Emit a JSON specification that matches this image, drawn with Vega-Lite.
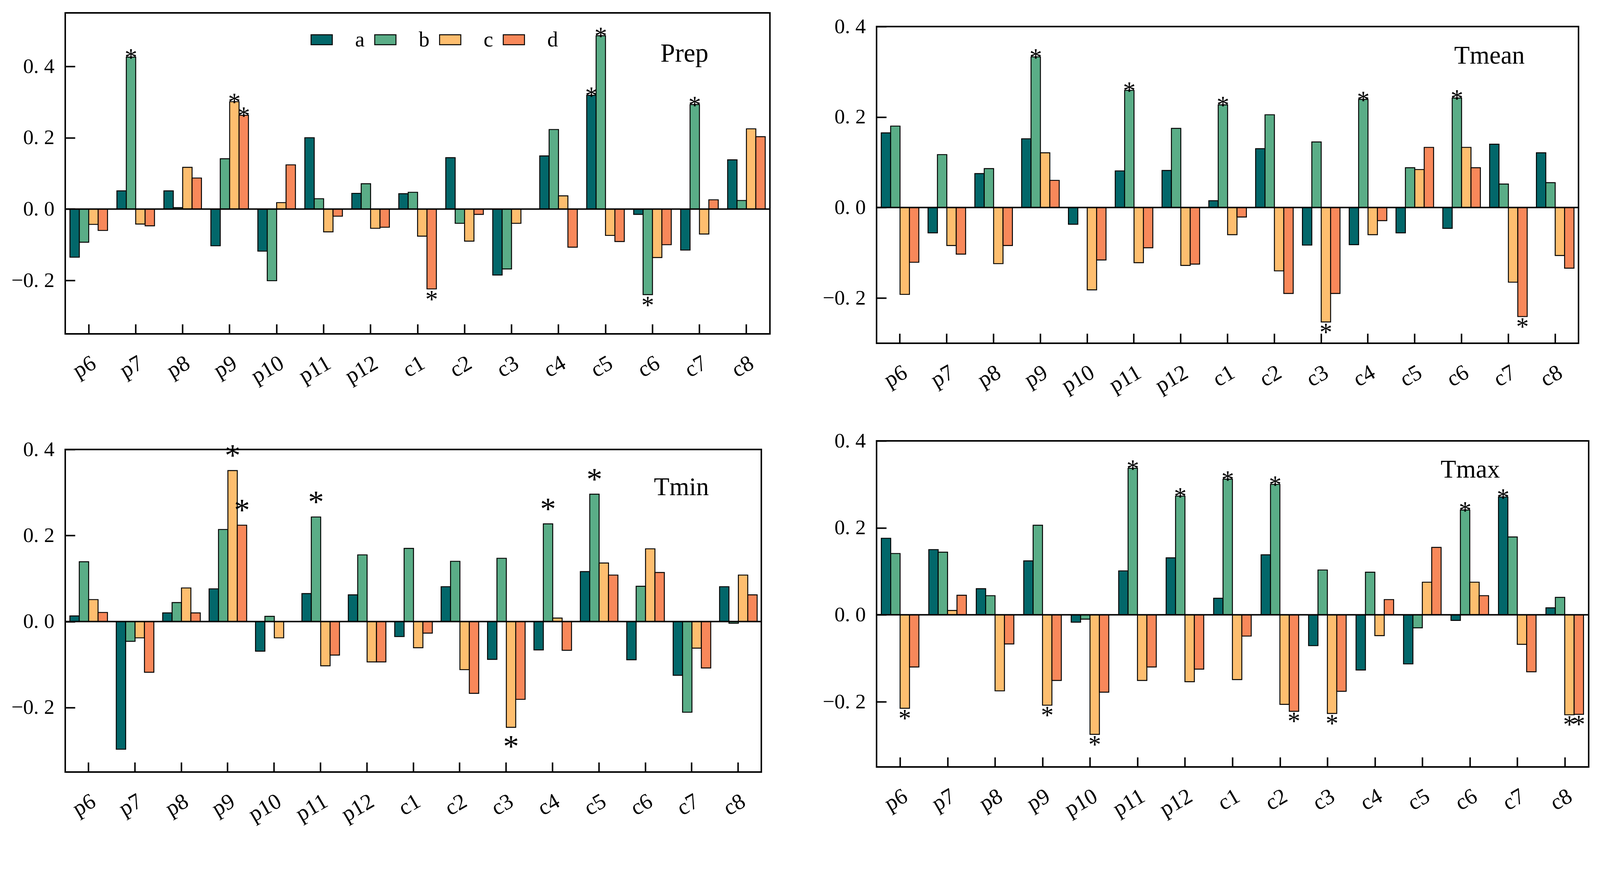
{
"$schema": "https://vega.github.io/schema/vega-lite/v6.json",
"padding": {"left": 26, "top": 31, "right": 5, "bottom": 5},
"background": "white",
"config": {"font": "Liberation Serif", "view": {"stroke": null}},
"datasets": {
"prep": [
{"cat":"p6","s":"a","v":-0.135},{"cat":"p6","s":"b","v":-0.093},{"cat":"p6","s":"c","v":-0.043},{"cat":"p6","s":"d","v":-0.060},
{"cat":"p7","s":"a","v":0.051},{"cat":"p7","s":"b","v":0.426,"sig":1},{"cat":"p7","s":"c","v":-0.042},{"cat":"p7","s":"d","v":-0.047},
{"cat":"p8","s":"a","v":0.051},{"cat":"p8","s":"b","v":0.004},{"cat":"p8","s":"c","v":0.117},{"cat":"p8","s":"d","v":0.087},
{"cat":"p9","s":"a","v":-0.103},{"cat":"p9","s":"b","v":0.141},{"cat":"p9","s":"c","v":0.301,"sig":1},{"cat":"p9","s":"d","v":0.263,"sig":1},
{"cat":"p10","s":"a","v":-0.118},{"cat":"p10","s":"b","v":-0.201},{"cat":"p10","s":"c","v":0.018},{"cat":"p10","s":"d","v":0.124},
{"cat":"p11","s":"a","v":0.200},{"cat":"p11","s":"b","v":0.029},{"cat":"p11","s":"c","v":-0.064},{"cat":"p11","s":"d","v":-0.020},
{"cat":"p12","s":"a","v":0.044},{"cat":"p12","s":"b","v":0.071},{"cat":"p12","s":"c","v":-0.054},{"cat":"p12","s":"d","v":-0.051},
{"cat":"c1","s":"a","v":0.043},{"cat":"c1","s":"b","v":0.047},{"cat":"c1","s":"c","v":-0.076},{"cat":"c1","s":"d","v":-0.224,"sig":1},
{"cat":"c2","s":"a","v":0.144},{"cat":"c2","s":"b","v":-0.040},{"cat":"c2","s":"c","v":-0.090},{"cat":"c2","s":"d","v":-0.015},
{"cat":"c3","s":"a","v":-0.185},{"cat":"c3","s":"b","v":-0.168},{"cat":"c3","s":"c","v":-0.040},
{"cat":"c4","s":"a","v":0.149},{"cat":"c4","s":"b","v":0.223},{"cat":"c4","s":"c","v":0.037},{"cat":"c4","s":"d","v":-0.107},
{"cat":"c5","s":"a","v":0.319,"sig":1},{"cat":"c5","s":"b","v":0.486,"sig":1},{"cat":"c5","s":"c","v":-0.074},{"cat":"c5","s":"d","v":-0.091},
{"cat":"c6","s":"a","v":-0.015},{"cat":"c6","s":"b","v":-0.240,"sig":1},{"cat":"c6","s":"c","v":-0.136},{"cat":"c6","s":"d","v":-0.100},
{"cat":"c7","s":"a","v":-0.115},{"cat":"c7","s":"b","v":0.293,"sig":1},{"cat":"c7","s":"c","v":-0.070},{"cat":"c7","s":"d","v":0.026},
{"cat":"c8","s":"a","v":0.138},{"cat":"c8","s":"b","v":0.024},{"cat":"c8","s":"c","v":0.225},{"cat":"c8","s":"d","v":0.203}
],
"tmean": [
{"cat":"p6","s":"a","v":0.165},{"cat":"p6","s":"b","v":0.180},{"cat":"p6","s":"c","v":-0.192},{"cat":"p6","s":"d","v":-0.121},
{"cat":"p7","s":"a","v":-0.056},{"cat":"p7","s":"b","v":0.117},{"cat":"p7","s":"c","v":-0.084},{"cat":"p7","s":"d","v":-0.103},
{"cat":"p8","s":"a","v":0.075},{"cat":"p8","s":"b","v":0.086},{"cat":"p8","s":"c","v":-0.124},{"cat":"p8","s":"d","v":-0.084},
{"cat":"p9","s":"a","v":0.152},{"cat":"p9","s":"b","v":0.333,"sig":1},{"cat":"p9","s":"c","v":0.121},{"cat":"p9","s":"d","v":0.060},
{"cat":"p10","s":"a","v":-0.037},{"cat":"p10","s":"c","v":-0.182},{"cat":"p10","s":"d","v":-0.116},
{"cat":"p11","s":"a","v":0.081},{"cat":"p11","s":"b","v":0.259,"sig":1},{"cat":"p11","s":"c","v":-0.122},{"cat":"p11","s":"d","v":-0.089},
{"cat":"p12","s":"a","v":0.082},{"cat":"p12","s":"b","v":0.175},{"cat":"p12","s":"c","v":-0.128},{"cat":"p12","s":"d","v":-0.125},
{"cat":"c1","s":"a","v":0.015},{"cat":"c1","s":"b","v":0.227,"sig":1},{"cat":"c1","s":"c","v":-0.060},{"cat":"c1","s":"d","v":-0.021},
{"cat":"c2","s":"a","v":0.130},{"cat":"c2","s":"b","v":0.205},{"cat":"c2","s":"c","v":-0.140},{"cat":"c2","s":"d","v":-0.190},
{"cat":"c3","s":"a","v":-0.083},{"cat":"c3","s":"b","v":0.145},{"cat":"c3","s":"c","v":-0.253,"sig":1},{"cat":"c3","s":"d","v":-0.190},
{"cat":"c4","s":"a","v":-0.082},{"cat":"c4","s":"b","v":0.239,"sig":1},{"cat":"c4","s":"c","v":-0.060},{"cat":"c4","s":"d","v":-0.029},
{"cat":"c5","s":"a","v":-0.056},{"cat":"c5","s":"b","v":0.088},{"cat":"c5","s":"c","v":0.084},{"cat":"c5","s":"d","v":0.133},
{"cat":"c6","s":"a","v":-0.046},{"cat":"c6","s":"b","v":0.242,"sig":1},{"cat":"c6","s":"c","v":0.133},{"cat":"c6","s":"d","v":0.088},
{"cat":"c7","s":"a","v":0.140},{"cat":"c7","s":"b","v":0.052},{"cat":"c7","s":"c","v":-0.165},{"cat":"c7","s":"d","v":-0.241,"sig":1},
{"cat":"c8","s":"a","v":0.121},{"cat":"c8","s":"b","v":0.055},{"cat":"c8","s":"c","v":-0.106},{"cat":"c8","s":"d","v":-0.134}
],
"tmin": [
{"cat":"p6","s":"a","v":0.013},{"cat":"p6","s":"b","v":0.139},{"cat":"p6","s":"c","v":0.051},{"cat":"p6","s":"d","v":0.021},
{"cat":"p7","s":"a","v":-0.297},{"cat":"p7","s":"b","v":-0.046},{"cat":"p7","s":"c","v":-0.038},{"cat":"p7","s":"d","v":-0.118},
{"cat":"p8","s":"a","v":0.020},{"cat":"p8","s":"b","v":0.044},{"cat":"p8","s":"c","v":0.078},{"cat":"p8","s":"d","v":0.020},
{"cat":"p9","s":"a","v":0.076},{"cat":"p9","s":"b","v":0.214},{"cat":"p9","s":"c","v":0.351,"sig":1},{"cat":"p9","s":"d","v":0.224,"sig":1},
{"cat":"p10","s":"a","v":-0.069},{"cat":"p10","s":"b","v":0.012},{"cat":"p10","s":"c","v":-0.038},
{"cat":"p11","s":"a","v":0.065},{"cat":"p11","s":"b","v":0.243,"sig":1},{"cat":"p11","s":"c","v":-0.103},{"cat":"p11","s":"d","v":-0.078},
{"cat":"p12","s":"a","v":0.062},{"cat":"p12","s":"b","v":0.155},{"cat":"p12","s":"c","v":-0.094},{"cat":"p12","s":"d","v":-0.094},
{"cat":"c1","s":"a","v":-0.035},{"cat":"c1","s":"b","v":0.170},{"cat":"c1","s":"c","v":-0.061},{"cat":"c1","s":"d","v":-0.027},
{"cat":"c2","s":"a","v":0.081},{"cat":"c2","s":"b","v":0.140},{"cat":"c2","s":"c","v":-0.112},{"cat":"c2","s":"d","v":-0.167},
{"cat":"c3","s":"a","v":-0.088},{"cat":"c3","s":"b","v":0.147},{"cat":"c3","s":"c","v":-0.246,"sig":1},{"cat":"c3","s":"d","v":-0.181},
{"cat":"c4","s":"a","v":-0.066},{"cat":"c4","s":"b","v":0.227,"sig":1},{"cat":"c4","s":"c","v":0.008},{"cat":"c4","s":"d","v":-0.067},
{"cat":"c5","s":"a","v":0.116},{"cat":"c5","s":"b","v":0.296,"sig":1},{"cat":"c5","s":"c","v":0.136},{"cat":"c5","s":"d","v":0.108},
{"cat":"c6","s":"a","v":-0.089},{"cat":"c6","s":"b","v":0.082},{"cat":"c6","s":"c","v":0.169},{"cat":"c6","s":"d","v":0.114},
{"cat":"c7","s":"a","v":-0.125},{"cat":"c7","s":"b","v":-0.211},{"cat":"c7","s":"c","v":-0.062},{"cat":"c7","s":"d","v":-0.108},
{"cat":"c8","s":"a","v":0.081},{"cat":"c8","s":"b","v":-0.004},{"cat":"c8","s":"c","v":0.108},{"cat":"c8","s":"d","v":0.062}
],
"tmax": [
{"cat":"p6","s":"a","v":0.176},{"cat":"p6","s":"b","v":0.141},{"cat":"p6","s":"c","v":-0.215,"sig":1},{"cat":"p6","s":"d","v":-0.120},
{"cat":"p7","s":"a","v":0.150},{"cat":"p7","s":"b","v":0.144},{"cat":"p7","s":"c","v":0.010},{"cat":"p7","s":"d","v":0.045},
{"cat":"p8","s":"a","v":0.060},{"cat":"p8","s":"b","v":0.044},{"cat":"p8","s":"c","v":-0.175},{"cat":"p8","s":"d","v":-0.067},
{"cat":"p9","s":"a","v":0.124},{"cat":"p9","s":"b","v":0.206},{"cat":"p9","s":"c","v":-0.208,"sig":1},{"cat":"p9","s":"d","v":-0.151},
{"cat":"p10","s":"a","v":-0.017},{"cat":"p10","s":"b","v":-0.010},{"cat":"p10","s":"c","v":-0.275,"sig":1},{"cat":"p10","s":"d","v":-0.178},
{"cat":"p11","s":"a","v":0.101},{"cat":"p11","s":"b","v":0.337,"sig":1},{"cat":"p11","s":"c","v":-0.151},{"cat":"p11","s":"d","v":-0.120},
{"cat":"p12","s":"a","v":0.131},{"cat":"p12","s":"b","v":0.273,"sig":1},{"cat":"p12","s":"c","v":-0.154},{"cat":"p12","s":"d","v":-0.125},
{"cat":"c1","s":"a","v":0.038},{"cat":"c1","s":"b","v":0.312,"sig":1},{"cat":"c1","s":"c","v":-0.149},{"cat":"c1","s":"d","v":-0.049},
{"cat":"c2","s":"a","v":0.138},{"cat":"c2","s":"b","v":0.300,"sig":1},{"cat":"c2","s":"c","v":-0.206},{"cat":"c2","s":"d","v":-0.222,"sig":1},
{"cat":"c3","s":"a","v":-0.071},{"cat":"c3","s":"b","v":0.103},{"cat":"c3","s":"c","v":-0.227,"sig":1},{"cat":"c3","s":"d","v":-0.176},
{"cat":"c4","s":"a","v":-0.127},{"cat":"c4","s":"b","v":0.098},{"cat":"c4","s":"c","v":-0.048},{"cat":"c4","s":"d","v":0.035},
{"cat":"c5","s":"a","v":-0.113},{"cat":"c5","s":"b","v":-0.030},{"cat":"c5","s":"c","v":0.075},{"cat":"c5","s":"d","v":0.155},
{"cat":"c6","s":"a","v":-0.013},{"cat":"c6","s":"b","v":0.241,"sig":1},{"cat":"c6","s":"c","v":0.075},{"cat":"c6","s":"d","v":0.044},
{"cat":"c7","s":"a","v":0.271,"sig":1},{"cat":"c7","s":"b","v":0.179},{"cat":"c7","s":"c","v":-0.068},{"cat":"c7","s":"d","v":-0.131},
{"cat":"c8","s":"a","v":0.016},{"cat":"c8","s":"b","v":0.040},{"cat":"c8","s":"c","v":-0.230,"sig":1},{"cat":"c8","s":"d","v":-0.229,"sig":1}
]
},
"hconcat": [
{
"vconcat": [
{
"width": 1804, "height": 822,
"data": {"name": "prep"},
"view": {"stroke": "black", "strokeWidth": 3.8},
"layer": [
{"mark": {"type": "bar", "stroke": "black", "strokeWidth": 2.4},
 "encoding": {
  "x": {"field": "cat", "type": "nominal", "scale": {"domain": ["p6","p7","p8","p9","p10","p11","p12","c1","c2","c3","c4","c5","c6","c7","c8"], "paddingInner": 0.2, "paddingOuter": 0.1},
        "axis": {"title": null, "labelAngle": -30, "labelFontSize": 57, "labelColor": "black", "domain": false, "grid": false, "tickSize": -25, "tickWidth": 3.8, "tickColor": "black", "labelPadding": 71}},
  "xOffset": {"field": "s", "type": "nominal", "scale": {"paddingInner": 0, "paddingOuter": 0}},
  "y": {"field": "v", "type": "quantitative", "scale": {"domain": [-0.35, 0.55], "nice": false, "zero": false},
        "axis": {"title": null, "values": [-0.2, 0, 0.2, 0.4], "format": ".1f", "labelExpr": "replace(datum.label, '.', '. ')", "labelFontSize": 53.5, "labelColor": "black", "domain": false, "grid": false, "tickSize": -25, "tickWidth": 3.8, "tickColor": "black", "labelPadding": 53}},
  "color": {"field": "s", "type": "nominal", "scale": {"domain": ["a","b","c","d"], "range": ["#02676A","#5AAD87","#FEBE6F","#F8885A"]},
        "legend": {"orient": "none", "legendX": 628, "legendY": 40, "direction": "horizontal", "title": null, "symbolType": "M-1,-0.47H1V0.47H-1Z", "symbolSize": 2960, "symbolStrokeColor": "black", "symbolStrokeWidth": 2.4, "symbolOpacity": 1, "labelFontSize": 55, "labelFont": "Liberation Serif", "labelColor": "black", "labelOffset": 57, "columnPadding": 20}}
 }},
{"data": {"values": [{}]}, "mark": {"type": "rule", "color": "black", "strokeWidth": 3.8}, "encoding": {"y": {"datum": 0}}},
{"data": {"values": [{"label": "Prep"}]}, "mark": {"type": "text", "align": "right", "baseline": "alphabetic", "fontSize": 67, "dx": 23, "color": "black"},
 "encoding": {"text": {"field": "label"}, "x": {"datum": "c7", "type": "nominal"}, "y": {"datum": 0.413, "type": "quantitative"}}},
{"transform": [{"filter": "datum.sig == 1 && datum.v > 0"}],
 "mark": {"type": "text", "text": "*", "fontSize": 65, "baseline": "alphabetic", "align": "center", "dy": 23, "color": "black"},
 "encoding": {"x": {"field": "cat", "type": "nominal"}, "xOffset": {"field": "s", "type": "nominal"}, "y": {"field": "v", "type": "quantitative"}}},
{"transform": [{"filter": "datum.sig == 1 && datum.v < 0"}],
 "mark": {"type": "text", "text": "*", "fontSize": 65, "baseline": "alphabetic", "align": "center", "dy": 48, "color": "black"},
 "encoding": {"x": {"field": "cat", "type": "nominal"}, "xOffset": {"field": "s", "type": "nominal"}, "y": {"field": "v", "type": "quantitative"}}}
]
},
{
"width": 1782, "height": 826,
"data": {"name": "tmin"},
"view": {"stroke": "black", "strokeWidth": 3.8},
"layer": [
{"mark": {"type": "bar", "stroke": "black", "strokeWidth": 2.4},
 "encoding": {
  "x": {"field": "cat", "type": "nominal", "scale": {"domain": ["p6","p7","p8","p9","p10","p11","p12","c1","c2","c3","c4","c5","c6","c7","c8"], "paddingInner": 0.2, "paddingOuter": 0.1},
        "axis": {"title": null, "labelAngle": -30, "labelFontSize": 57, "labelColor": "black", "domain": false, "grid": false, "tickSize": -25, "tickWidth": 3.8, "tickColor": "black", "labelPadding": 71}},
  "xOffset": {"field": "s", "type": "nominal", "scale": {"paddingInner": 0, "paddingOuter": 0}},
  "y": {"field": "v", "type": "quantitative", "scale": {"domain": [-0.35, 0.4], "nice": false, "zero": false},
        "axis": {"title": null, "values": [-0.2, 0, 0.2, 0.4], "format": ".1f", "labelExpr": "replace(datum.label, '.', '. ')", "labelFontSize": 53.5, "labelColor": "black", "domain": false, "grid": false, "tickSize": -25, "tickWidth": 3.8, "tickColor": "black", "labelPadding": 53}},
  "color": {"field": "s", "type": "nominal", "scale": {"domain": ["a","b","c","d"], "range": ["#02676A","#5AAD87","#FEBE6F","#F8885A"]}, "legend": null}
 }},
{"data": {"values": [{}]}, "mark": {"type": "rule", "color": "black", "strokeWidth": 3.8}, "encoding": {"y": {"datum": 0}}},
{"data": {"values": [{"label": "Tmin"}]}, "mark": {"type": "text", "align": "right", "baseline": "alphabetic", "fontSize": 65, "dx": 44, "color": "black"},
 "encoding": {"text": {"field": "label"}, "x": {"datum": "c7", "type": "nominal"}, "y": {"datum": 0.294, "type": "quantitative"}}},
{"transform": [{"filter": "datum.sig == 1 && datum.v > 0"}],
 "mark": {"type": "text", "text": "*", "fontSize": 81, "baseline": "alphabetic", "align": "center", "dy": -12, "color": "black"},
 "encoding": {"x": {"field": "cat", "type": "nominal"}, "xOffset": {"field": "s", "type": "nominal"}, "y": {"field": "v", "type": "quantitative"}}},
{"transform": [{"filter": "datum.sig == 1 && datum.v < 0"}],
 "mark": {"type": "text", "text": "*", "fontSize": 81, "baseline": "alphabetic", "align": "center", "dy": 76, "color": "black"},
 "encoding": {"x": {"field": "cat", "type": "nominal"}, "xOffset": {"field": "s", "type": "nominal"}, "y": {"field": "v", "type": "quantitative"}}}
]
}
],
"spacing": 296, "bounds": "flush",
"resolve": {"scale": {"color": "independent"}, "legend": {"color": "independent"}}
},
{
"vconcat": [
{
"vconcat": [
{"width": 10, "height": 1, "data": {"values": [{}]}, "mark": {"type": "point", "opacity": 0, "size": 1}, "encoding": {}},
{
"width": 1797, "height": 811,
"data": {"name": "tmean"},
"view": {"stroke": "black", "strokeWidth": 3.8},
"layer": [
{"mark": {"type": "bar", "stroke": "black", "strokeWidth": 2.4},
 "encoding": {
  "x": {"field": "cat", "type": "nominal", "scale": {"domain": ["p6","p7","p8","p9","p10","p11","p12","c1","c2","c3","c4","c5","c6","c7","c8"], "paddingInner": 0.2, "paddingOuter": 0.1},
        "axis": {"title": null, "labelAngle": -30, "labelFontSize": 57, "labelColor": "black", "domain": false, "grid": false, "tickSize": -25, "tickWidth": 3.8, "tickColor": "black", "labelPadding": 71}},
  "xOffset": {"field": "s", "type": "nominal", "scale": {"paddingInner": 0, "paddingOuter": 0}},
  "y": {"field": "v", "type": "quantitative", "scale": {"domain": [-0.3, 0.4], "nice": false, "zero": false},
        "axis": {"title": null, "values": [-0.2, 0, 0.2, 0.4], "format": ".1f", "labelExpr": "replace(datum.label, '.', '. ')", "labelFontSize": 53.5, "labelColor": "black", "domain": false, "grid": false, "tickSize": -25, "tickWidth": 3.8, "tickColor": "black", "labelPadding": 53}},
  "color": {"field": "s", "type": "nominal", "scale": {"domain": ["a","b","c","d"], "range": ["#02676A","#5AAD87","#FEBE6F","#F8885A"]}, "legend": null}
 }},
{"data": {"values": [{}]}, "mark": {"type": "rule", "color": "black", "strokeWidth": 3.8}, "encoding": {"y": {"datum": 0}}},
{"data": {"values": [{"label": "Tmean"}]}, "mark": {"type": "text", "align": "right", "baseline": "alphabetic", "fontSize": 65, "dx": 42, "color": "black"},
 "encoding": {"text": {"field": "label"}, "x": {"datum": "c7", "type": "nominal"}, "y": {"datum": 0.318, "type": "quantitative"}}},
{"transform": [{"filter": "datum.sig == 1 && datum.v > 0"}],
 "mark": {"type": "text", "text": "*", "fontSize": 65, "baseline": "alphabetic", "align": "center", "dy": 23, "color": "black"},
 "encoding": {"x": {"field": "cat", "type": "nominal"}, "xOffset": {"field": "s", "type": "nominal"}, "y": {"field": "v", "type": "quantitative"}}},
{"transform": [{"filter": "datum.sig == 1 && datum.v < 0"}],
 "mark": {"type": "text", "text": "*", "fontSize": 65, "baseline": "alphabetic", "align": "center", "dy": 47, "color": "black"},
 "encoding": {"x": {"field": "cat", "type": "nominal"}, "xOffset": {"field": "s", "type": "nominal"}, "y": {"field": "v", "type": "quantitative"}}}
]
}
],
"spacing": 34, "bounds": "flush",
"resolve": {"scale": {"color": "independent"}, "legend": {"color": "independent"}}
},
{
"width": 1823, "height": 835,
"data": {"name": "tmax"},
"view": {"stroke": "black", "strokeWidth": 3.8},
"layer": [
{"mark": {"type": "bar", "stroke": "black", "strokeWidth": 2.4},
 "encoding": {
  "x": {"field": "cat", "type": "nominal", "scale": {"domain": ["p6","p7","p8","p9","p10","p11","p12","c1","c2","c3","c4","c5","c6","c7","c8"], "paddingInner": 0.2, "paddingOuter": 0.1},
        "axis": {"title": null, "labelAngle": -30, "labelFontSize": 57, "labelColor": "black", "domain": false, "grid": false, "tickSize": -25, "tickWidth": 3.8, "tickColor": "black", "labelPadding": 71}},
  "xOffset": {"field": "s", "type": "nominal", "scale": {"paddingInner": 0, "paddingOuter": 0}},
  "y": {"field": "v", "type": "quantitative", "scale": {"domain": [-0.35, 0.4], "nice": false, "zero": false},
        "axis": {"title": null, "values": [-0.2, 0, 0.2, 0.4], "format": ".1f", "labelExpr": "replace(datum.label, '.', '. ')", "labelFontSize": 53.5, "labelColor": "black", "domain": false, "grid": false, "tickSize": -25, "tickWidth": 3.8, "tickColor": "black", "labelPadding": 53}},
  "color": {"field": "s", "type": "nominal", "scale": {"domain": ["a","b","c","d"], "range": ["#02676A","#5AAD87","#FEBE6F","#F8885A"]}, "legend": null}
 }},
{"data": {"values": [{}]}, "mark": {"type": "rule", "color": "black", "strokeWidth": 3.8}, "encoding": {"y": {"datum": 0}}},
{"data": {"values": [{"label": "Tmax"}]}, "mark": {"type": "text", "align": "right", "baseline": "alphabetic", "fontSize": 65, "dx": -45, "color": "black"},
 "encoding": {"text": {"field": "label"}, "x": {"datum": "c7", "type": "nominal"}, "y": {"datum": 0.316, "type": "quantitative"}}},
{"transform": [{"filter": "datum.sig == 1 && datum.v > 0"}],
 "mark": {"type": "text", "text": "*", "fontSize": 65, "baseline": "alphabetic", "align": "center", "dy": 23, "color": "black"},
 "encoding": {"x": {"field": "cat", "type": "nominal"}, "xOffset": {"field": "s", "type": "nominal"}, "y": {"field": "v", "type": "quantitative"}}},
{"transform": [{"filter": "datum.sig == 1 && datum.v < 0"}],
 "mark": {"type": "text", "text": "*", "fontSize": 65, "baseline": "alphabetic", "align": "center", "dy": 47, "color": "black"},
 "encoding": {"x": {"field": "cat", "type": "nominal"}, "xOffset": {"field": "s", "type": "nominal"}, "y": {"field": "v", "type": "quantitative"}}}
]
}
],
"spacing": 81,
"resolve": {"scale": {"color": "independent"}, "legend": {"color": "independent"}}
}
],
"spacing": 128,
"resolve": {"scale": {"color": "independent"}, "legend": {"color": "independent"}}
}
